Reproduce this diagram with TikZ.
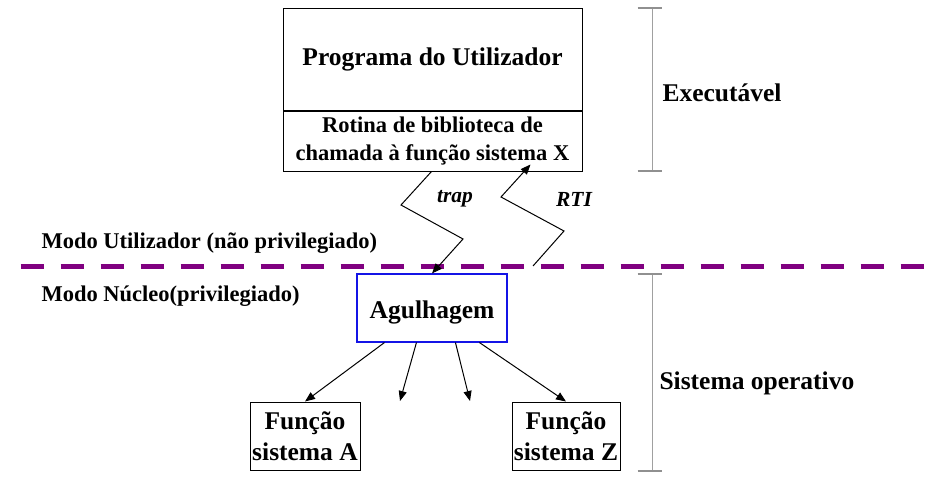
\documentclass[tikz,border=0pt]{standalone}
\usepackage{fontspec}
\setmainfont{Liberation Serif}
\usepackage{tikz}
\usetikzlibrary{arrows.meta, positioning, calc}
\definecolor{modeline}{RGB}{128,0,128}
\definecolor{gatebox}{RGB}{20,20,230}
\definecolor{spangray}{RGB}{160,160,160}

\begin{document}
\begin{tikzpicture}[x=1pt, y=-1pt,
    bigtxt/.style={font=\fontsize{25.5}{31}\selectfont\bfseries},
    smalltxt/.style={font=\fontsize{22.5}{28}\selectfont\bfseries},
    slanttxt/.style={font=\fontsize{21.5}{24}\selectfont\bfseries\itshape},
    box/.style={draw, line width=1pt, inner sep=0pt, align=center},
    call/.style={-{Triangle[length=10pt,width=8pt]}, line width=1pt},
    span/.style={spangray, line width=1.3pt},
    spantick/.style={spangray!90!black, line width=2.2pt}]
  \useasboundingbox (0,0) rectangle (950,490);
  % User program and library routine
  \node[box, bigtxt, minimum width=299pt, minimum height=102pt] (prog) at (432.5,59) {Programa do Utilizador};
  \node[box, smalltxt, minimum width=299pt, minimum height=60pt, below=0pt of prog] (rotina)
    {Rotina de biblioteca de\\chamada à função sistema X};
  % Executable bracket
  \coordinate (exTop) at (652.5,8);
  \coordinate (exBot) at (652.5,171);
  \draw[span] (exTop) -- (exBot);
  \draw[spantick] ($(exTop)+(-15,0)$) -- ($(exTop)+(9,0)$);
  \draw[spantick] ($(exBot)+(-15,0)$) -- ($(exBot)+(9,0)$);
  \node[bigtxt, anchor=west] (exe) at (659,93) {Executável};
  % Mode boundary
  \draw[modeline, line width=5pt, dash pattern=on 23pt off 17pt] (20.7,266) -- (924,266);
  \node[smalltxt, anchor=west] (modoU) at (38,243) {Modo Utilizador (não privilegiado)};
  \node[smalltxt, anchor=west] (modoN) at (38,296) {Modo Núcleo(privilegiado)};
  % Kernel side
  \node[box, bigtxt, draw=gatebox, line width=1.1pt, minimum width=150pt, minimum height=68pt] (agul) at (432,308) {\raisebox{-10pt}[0pt][0pt]{Agulhagem}};
  \node[box, bigtxt, minimum width=110pt, minimum height=68pt] (fA) at (305,436) {Função\\sistema A};
  \node[box, bigtxt, minimum width=108pt, minimum height=68pt] (fZ) at (566,436) {Função\\sistema Z};
  \coordinate (gapL) at (400,401);
  \coordinate (gapR) at (470,401);
  \foreach \dx/\tgt in {28/fA.north, 60/gapL, 99/gapR, 123/fZ.north}
    \draw[call] ($(agul.south west)+(\dx,0)$) -- (\tgt);
  % Operating system bracket
  \coordinate (soTop) at (652.5,274);
  \coordinate (soBot) at (652.5,471);
  \draw[span] (soTop) -- (soBot);
  \draw[spantick] ($(soTop)+(-15,0)$) -- ($(soTop)+(9,0)$);
  \draw[spantick] ($(soBot)+(-15,0)$) -- ($(soBot)+(9,0)$);
  \node[bigtxt, anchor=west] (so) at (656,383) {Sistema operativo};
  % trap and return
  \draw[call] ($(rotina.south west)+(149,0)$) -- (401,205) -- (463,239) -- (agul.north);
  \coordinate (rtiStart) at (533,266);
  \draw[call] (rtiStart) -- (564,231) -- (501,197) -- ($(rotina.south west)+(248,-7)$);
  \node[slanttxt] (trap) at (455,199) {trap};
  \node[slanttxt] (rti) at (574,199) {RTI};
\end{tikzpicture}
\end{document}
